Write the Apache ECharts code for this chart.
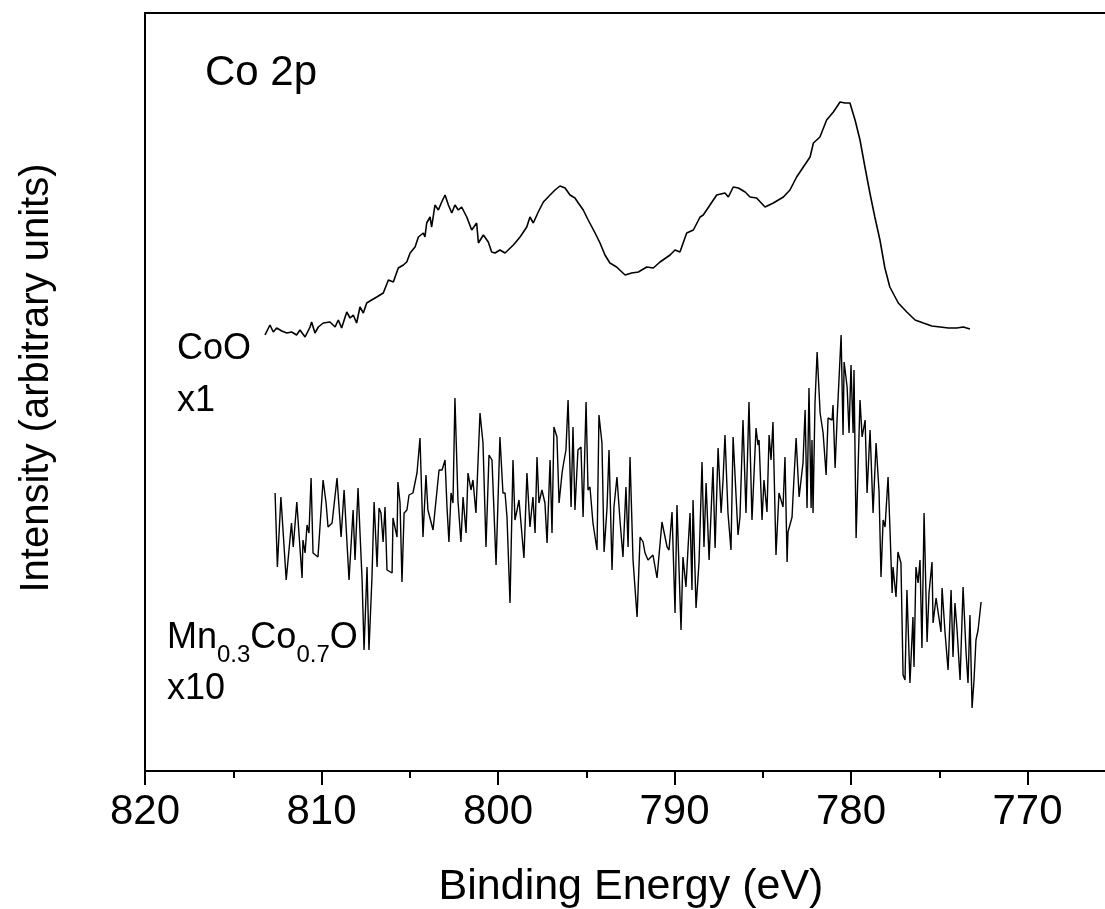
<!DOCTYPE html>
<html>
<head>
<meta charset="utf-8">
<script src="https://cdn.jsdelivr.net/npm/echarts@6/dist/echarts.min.js"></script>
<style>
  html, body { margin: 0; padding: 0; background: #fff; }
  #chart { width: 1105px; height: 909px; }
</style>
</head>
<body>
<div id="chart"></div>
<script>
// CoO spectrum (x1), binding energy in eV and intensity in arbitrary units
const energyCoO = [813.20, 812.92, 812.73, 812.54, 812.25, 811.97, 811.69, 811.41, 811.22, 810.93, 810.65, 810.56, 810.37, 810.18,
  809.90, 809.52, 809.23, 809.05, 808.86, 808.57, 808.38, 808.20, 808.01, 807.82, 807.63, 807.44, 807.16, 806.87, 806.50,
  806.21, 805.93, 805.65, 805.36, 805.17, 804.98, 804.70, 804.51, 804.23, 804.14, 804.04, 803.85, 803.76, 803.57, 803.38,
  803.19, 803.00, 802.81, 802.62, 802.44, 802.25, 802.06, 801.77, 801.49, 801.21, 801.11, 800.83, 800.55, 800.36, 800.17,
  799.89, 799.60, 799.13, 798.75, 798.37, 798.19, 798.00, 797.72, 797.43, 797.05, 796.77, 796.49, 796.20, 795.92, 795.64,
  795.45, 795.17, 794.89, 794.50, 794.22, 793.94, 793.66, 793.28, 792.80, 792.43, 792.05, 791.57, 791.20, 790.82, 790.25,
  789.97, 789.69, 789.31, 788.93, 788.55, 788.37, 787.99, 787.61, 787.14, 786.95, 786.67, 786.38, 786.00, 785.72, 785.35,
  784.87, 784.40, 783.83, 783.46, 783.08, 782.70, 782.32, 782.13, 781.76, 781.38, 781.00, 780.62, 780.34, 780.06, 779.77,
  779.49, 779.21, 778.93, 778.65, 778.36, 778.08, 777.80, 777.32, 776.84, 776.37, 775.90, 775.42, 774.95, 774.49, 774.01,
  773.64, 773.26];
const intensityCoO = [436, 446, 439, 443, 440, 438, 439, 436, 441, 434, 444, 449, 438, 444,
  448, 449, 444, 451, 443, 459, 453, 456, 448, 464, 458, 468, 471, 474, 478,
  491, 489, 503, 506, 509, 518, 524, 534, 538, 534, 548, 554, 544, 566, 561,
  569, 576, 566, 558, 566, 561, 564, 554, 541, 548, 528, 536, 529, 519, 518,
  521, 518, 526, 534, 544, 554, 548, 559, 569, 576, 581, 585, 583, 576, 573,
  568, 561, 551, 538, 528, 516, 508, 504, 496, 498, 499, 504, 503, 509, 516,
  521, 519, 538, 541, 554, 556, 566, 576, 578, 574, 584, 583, 579, 574, 573,
  564, 568, 574, 581, 594, 604, 614, 628, 634, 651, 659, 669, 668, 668, 651,
  631, 604, 578, 554, 531, 503, 484, 468, 459, 451, 448, 445, 444, 443, 443,
  444, 442];

// Mn0.3Co0.7O spectrum (x10)
const energyMn = [812.63, 812.5, 812.3, 812.0, 811.7, 811.6, 811.4, 811.1, 811.05, 810.93, 810.82, 810.71, 810.59, 810.48, 810.2,
  809.91, 809.74, 809.63, 809.4, 809.12, 808.89, 808.72, 808.44, 808.21, 808.1, 807.93, 807.7, 807.59, 807.42, 807.31,
  807.14, 807.02, 806.85, 806.74, 806.63, 806.51, 806.4, 806.29, 806.0, 805.95, 805.72, 805.67, 805.55, 805.44, 805.32,
  805.16, 805.04, 804.82, 804.59, 804.42, 804.25, 804.08, 803.97, 803.68, 803.57, 803.34, 803.17, 803.0, 802.89, 802.78,
  802.66, 802.55, 802.44, 802.27, 802.1, 801.98, 801.81, 801.7, 801.53, 801.42, 801.25, 801.02, 800.85, 800.68, 800.51,
  800.34, 800.11, 799.89, 799.72, 799.6, 799.49, 799.32, 799.15, 799.04, 798.92, 798.81, 798.53, 798.36, 798.19, 798.02,
  797.9, 797.79, 797.68, 797.51, 797.34, 797.22, 797.05, 796.94, 796.83, 796.66, 796.54, 796.37, 796.32, 796.15, 796.03,
  795.86, 795.75, 795.64, 795.47, 795.3, 795.18, 795.01, 794.9, 794.79, 794.62, 794.39, 794.28, 794.11, 793.99, 793.82,
  793.71, 793.54, 793.43, 793.26, 793.09, 792.92, 792.75, 792.63, 792.52, 792.35, 792.12, 791.95, 791.78, 791.67, 791.5,
  791.39, 791.22, 790.99, 790.71, 790.42, 790.31, 790.14, 789.97, 789.86, 789.63, 789.52, 789.35, 789.23, 789.12, 789.01,
  788.95, 788.78, 788.61, 788.44, 788.33, 788.21, 788.04, 787.82, 787.7, 787.53, 787.36, 787.25, 787.14, 786.97, 786.8,
  786.68, 786.4, 786.29, 786.12, 785.95, 785.78, 785.61, 785.38, 785.27, 785.21, 785.04, 784.93, 784.76, 784.64, 784.53,
  784.42, 784.25, 784.08, 783.85, 783.74, 783.62, 783.57, 783.34, 783.28, 783.11, 782.94, 782.72, 782.6, 782.49, 782.38,
  782.26, 782.21, 782.15, 782.04, 781.92, 781.75, 781.58, 781.41, 781.3, 781.07, 781.02, 780.9, 780.79, 780.56, 780.45,
  780.39, 780.22, 780.11, 780.0, 779.88, 779.83, 779.71, 779.49, 779.37, 779.2, 779.09, 778.92, 778.75, 778.58, 778.41,
  778.3, 778.18, 778.07, 777.9, 777.79, 777.67, 777.62, 777.45, 777.34, 777.17, 777.05, 776.94, 776.83, 776.66, 776.49,
  776.43, 776.32, 776.2, 776.09, 775.98, 775.86, 775.69, 775.58, 775.41, 775.35, 775.18, 775.07, 774.9, 774.84, 774.67,
  774.5, 774.33, 774.22, 774.11, 773.99, 773.82, 773.65, 773.48, 773.37, 773.26, 773.14, 773.03, 772.92, 772.8, 772.63];
const intensityMn = [278, 204, 274, 191, 248, 224, 269, 193, 231, 218, 246, 238, 293, 218, 214,
  291, 268, 244, 248, 293, 234, 281, 191, 261, 211, 283, 191, 121, 204, 121,
  194, 269, 204, 263, 258, 229, 264, 201, 198, 253, 234, 289, 268, 189, 258,
  261, 276, 278, 298, 333, 234, 296, 261, 241, 243, 301, 301, 311, 264, 229,
  278, 268, 373, 271, 229, 274, 238, 298, 281, 291, 258, 358, 328, 224, 316,
  311, 206, 334, 278, 278, 254, 168, 311, 251, 261, 271, 213, 298, 244, 274,
  238, 314, 268, 281, 268, 228, 311, 238, 344, 334, 268, 298, 304, 321, 371,
  264, 344, 261, 321, 324, 254, 369, 281, 284, 248, 221, 356, 328, 219, 264,
  321, 201, 264, 294, 251, 214, 284, 224, 314, 211, 154, 234, 229, 218, 211,
  213, 216, 193, 249, 224, 221, 259, 158, 266, 141, 214, 184, 224, 258, 181,
  271, 163, 209, 309, 224, 288, 211, 304, 223, 323, 258, 291, 336, 258, 221,
  334, 236, 254, 351, 258, 369, 251, 343, 326, 331, 251, 291, 259, 336, 311,
  349, 216, 278, 264, 314, 209, 239, 254, 276, 333, 274, 308, 361, 263, 383,
  263, 331, 258, 368, 419, 358, 338, 296, 353, 351, 366, 303, 351, 436, 336,
  409, 384, 338, 406, 338, 401, 233, 371, 334, 351, 278, 341, 258, 328, 279,
  194, 251, 244, 294, 241, 178, 204, 174, 219, 208, 96, 91, 181, 88, 154,
  104, 204, 188, 211, 123, 258, 129, 178, 209, 148, 173, 173, 139, 183, 138,
  101, 181, 114, 168, 141, 91, 184, 118, 88, 156, 63, 91, 131, 141, 169];

const xTickLabels = ['820', '810', '800', '790', '780', '770'];

const chart = echarts.init(document.getElementById('chart'));
const font = 'Liberation Sans, Arial, Helvetica, sans-serif';

const option = {
  animation: false,
  backgroundColor: '#fff',
  grid: {
    left: 145,
    right: -99,
    top: 13,
    bottom: 138,
    outerBoundsMode: 'none',
    containLabel: false,
    show: true,
    borderColor: '#000',
    borderWidth: 2
  },
  xAxis: {
    type: 'value',
    inverse: true,
    min: 760,
    max: 820,
    interval: 10,
    axisLine: { lineStyle: { color: '#000', width: 2 } },
    axisTick: { show: true, inside: false, length: 14, lineStyle: { color: '#000', width: 2 } },
    minorTick: { show: true, splitNumber: 2, length: 7, lineStyle: { color: '#000', width: 2 } },
    splitLine: { show: false },
    axisLabel: {
      margin: 20,
      fontSize: 42,
      fontFamily: font,
      color: '#000',
      formatter: v => xTickLabels.includes(String(v)) ? String(v) : ''
    }
  },
  yAxis: {
    type: 'value',
    min: 0,
    max: 758,
    axisLine: { show: true, lineStyle: { color: '#000', width: 2 } },
    axisTick: { show: false },
    axisLabel: { show: false },
    splitLine: { show: false }
  },
  series: [
    {
      name: 'CoO',
      type: 'line',
      showSymbol: false,
      data: energyCoO.map((e, i) => [e, intensityCoO[i]]),
      lineStyle: { color: '#000', width: 1.6 }
    },
    {
      name: 'Mn0.3Co0.7O',
      type: 'line',
      showSymbol: false,
      data: energyMn.map((e, i) => [e, intensityMn[i]]),
      lineStyle: { color: '#000', width: 1.4 }
    }
  ],
  graphic: [
    {
      type: 'text', x: 631, y: 887,
      style: { text: 'Binding Energy (eV)', fontSize: 43, fontFamily: font, fill: '#000',
        align: 'center', verticalAlign: 'middle', textAlign: 'center', textVerticalAlign: 'middle' }
    },
    {
      type: 'text', x: 37, y: 378, rotation: Math.PI / 2,
      style: { text: 'Intensity (arbitrary units)', fontSize: 40, fontFamily: font, fill: '#000',
        align: 'center', verticalAlign: 'middle', textAlign: 'center', textVerticalAlign: 'middle' }
    },
    {
      type: 'text', x: 205, y: 73,
      style: { text: 'Co 2p', fontSize: 42, fontFamily: font, fill: '#000',
        align: 'left', verticalAlign: 'middle', textAlign: 'left', textVerticalAlign: 'middle' }
    },
    {
      type: 'text', x: 177, y: 349,
      style: { text: 'CoO', fontSize: 36, fontFamily: font, fill: '#000',
        align: 'left', verticalAlign: 'middle', textAlign: 'left', textVerticalAlign: 'middle' }
    },
    {
      type: 'text', x: 177, y: 401,
      style: { text: 'x1', fontSize: 36, fontFamily: font, fill: '#000',
        align: 'left', verticalAlign: 'middle', textAlign: 'left', textVerticalAlign: 'middle' }
    },
    {
      type: 'text', x: 167, y: 609,
      style: {
        text: '{m|Mn}{s|0.3}{m|Co}{s|0.7}{m|O}',
        fill: '#000',
        align: 'left', verticalAlign: 'top', textAlign: 'left', textVerticalAlign: 'top',
        rich: {
          m: { fontSize: 36, fontFamily: font, lineHeight: 58, verticalAlign: 'middle', fill: '#000' },
          s: { fontSize: 24, fontFamily: font, verticalAlign: 'bottom', fill: '#000' }
        }
      }
    },
    {
      type: 'text', x: 167, y: 689,
      style: { text: 'x10', fontSize: 36, fontFamily: font, fill: '#000',
        align: 'left', verticalAlign: 'middle', textAlign: 'left', textVerticalAlign: 'middle' }
    }
  ]
};

chart.setOption(option);
</script>
</body>
</html>
